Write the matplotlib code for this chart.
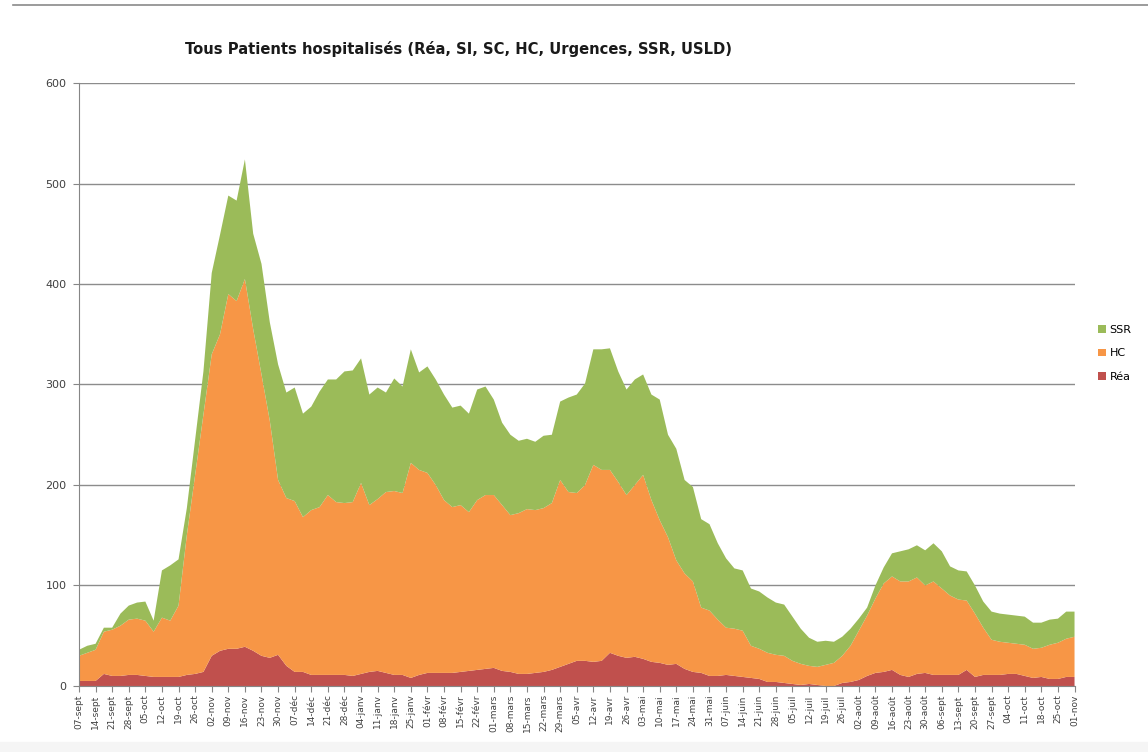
import numpy as np
import matplotlib.pyplot as plt

# semaines depuis le 07-sept (un point par demi-semaine)
semaines = np.arange(0, 60.5, 0.5)

rea = [5, 5, 5, 12, 10, 10, 11, 11, 10, 9, 9, 9, 9, 11, 12, 14, 30, 35, 37, 37,
       39, 35, 30, 28, 31, 20, 14, 14, 11, 11, 11, 11, 11, 10, 12, 14, 15, 13, 11, 11,
       8, 11, 13, 13, 13, 13, 14, 15, 16, 17, 18, 15, 14, 12, 12, 13, 14, 16, 19, 22,
       25, 25, 24, 25, 33, 30, 28, 29, 27, 24, 23, 21, 22, 17, 14, 13, 10, 10, 11, 10,
       9, 8, 7, 4, 4, 3, 2, 1, 2, 1, 0, 0, 3, 4, 6, 10, 13, 14, 16, 11,
       9, 12, 13, 11, 11, 11, 11, 16, 9, 11, 11, 11, 12, 12, 10, 8, 9, 7, 7, 9,
       9]

hc = [25, 28, 31, 42, 46, 50, 55, 56, 55, 45, 59, 56, 71, 139, 198, 256, 300, 315, 353, 346,
      366, 320, 280, 236, 174, 167, 170, 154, 164, 167, 179, 172, 171, 173, 190, 166, 171, 180, 183, 181,
      214, 204, 199, 187, 172, 165, 166, 158, 169, 173, 172, 165, 156, 160, 164, 162, 163, 166, 186, 171,
      167, 175, 196, 190, 182, 173, 162, 171, 183, 161, 142, 127, 103, 95, 90, 65, 65, 56, 47, 47,
      46, 32, 30, 29, 27, 27, 23, 21, 18, 18, 21, 23, 27, 36, 49, 60, 74, 88, 93, 93,
      95, 96, 87, 93, 86, 79, 75, 69, 63, 47, 35, 33, 31, 30, 31, 29, 29, 34, 36, 38,
      40]

ssr = [6, 7, 6, 4, 2, 12, 14, 16, 19, 11, 47, 55, 46, 27, 35, 43, 81, 99, 98, 100,
       119, 95, 110, 98, 115, 105, 113, 103, 103, 115, 115, 122, 131, 131, 124, 110, 111, 99, 112, 106,
       113, 97, 106, 105, 105, 99, 99, 98, 110, 108, 95, 82, 80, 72, 70, 68, 72, 68, 78, 94,
       98, 101, 115, 120, 121, 110, 105, 105, 100, 105, 120, 102, 111, 93, 94, 88, 86, 76, 69, 60,
       60, 57, 57, 55, 52, 51, 44, 35, 28, 25, 24, 21, 19, 17, 12, 8, 13, 16, 23, 30,
       32, 32, 35, 38, 37, 29, 29, 29, 28, 26, 28, 28, 28, 28, 28, 26, 25, 25, 24, 27,
       25]

dates = ['07-sept', '14-sept', '21-sept', '28-sept', '05-oct', '12-oct', '19-oct', '26-oct',
         '02-nov', '09-nov', '16-nov', '23-nov', '30-nov', '07-déc', '14-déc', '21-déc',
         '28-déc', '04-janv', '11-janv', '18-janv', '25-janv', '01-févr', '08-févr', '15-févr',
         '22-févr', '01-mars', '08-mars', '15-mars', '22-mars', '29-mars', '05-avr', '12-avr',
         '19-avr', '26-avr', '03-mai', '10-mai', '17-mai', '24-mai', '31-mai', '07-juin',
         '14-juin', '21-juin', '28-juin', '05-juil', '12-juil', '19-juil', '26-juil', '02-août',
         '09-août', '16-août', '23-août', '30-août', '06-sept', '13-sept', '20-sept', '27-sept',
         '04-oct', '11-oct', '18-oct', '25-oct', '01-nov']

c_rea = '#C0504D'
c_hc = '#F79646'
c_ssr = '#9BBB59'

fig = plt.figure(figsize=(11.48, 7.52), dpi=100)
ax = fig.add_axes([0.0688, 0.0878, 0.8672, 0.8018])

ax.stackplot(semaines, rea, hc, ssr, colors=[c_rea, c_hc, c_ssr],
             labels=['Réa', 'HC', 'SSR'], linewidth=0)

ax.set_xlim(0, 60)
ax.set_ylim(0, 600)
ax.set_yticks(range(0, 601, 100))
ax.set_xticks(range(len(dates)))
ax.set_xticklabels(dates, rotation=90, fontsize=6.5, color='#404040')
ax.tick_params(axis='y', labelsize=8, colors='#404040', length=4, color='#868686', pad=5)
ax.tick_params(axis='x', length=4, color='#868686', pad=2)

ax.grid(axis='y', color='#8c8c8c', linewidth=1)
ax.set_axisbelow(True)
for s in ['top', 'right']:
    ax.spines[s].set_visible(False)
ax.spines['left'].set_color('#868686')
ax.spines['bottom'].set_color('#868686')

fig.text(0.399, 0.935, 'Tous Patients hospitalisés (Réa, SI, SC, HC, Urgences, SSR, USLD)',
         ha='center', va='center', fontsize=10.6, fontweight='bold', color='#1a1a1a')

h, l = ax.get_legend_handles_labels()
fig.legend(h[::-1], l[::-1], loc='center left', bbox_to_anchor=(0.948, 0.53),
           frameon=False, fontsize=8, handlelength=0.7, handleheight=0.7,
           handletextpad=0.3, labelspacing=1.2)

# trait gris en haut et bande claire en bas (capture d'écran Excel)
fig.add_artist(plt.Line2D([0.011, 1], [0.994, 0.994], color='#8a8a8a', linewidth=1.2))
fig.add_artist(plt.Rectangle((0, 0), 1, 0.013, color='#f5f5f5', zorder=-1))

plt.savefig('out.png', dpi=100)
